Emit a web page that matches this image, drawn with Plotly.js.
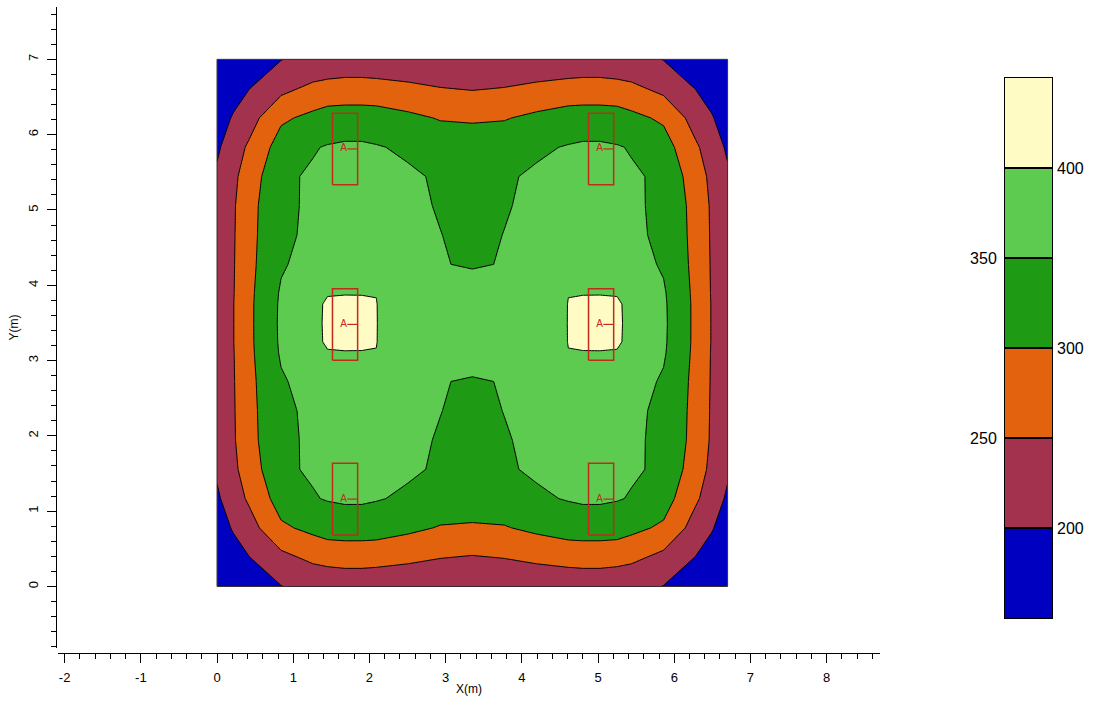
<!DOCTYPE html>
<html>
<head>
<meta charset="utf-8">
<script src="https://cdn.plot.ly/plotly-3.0.1.min.js"></script>
<style>html,body{margin:0;padding:0;background:#fff;} #chart{width:1099px;height:706px;}</style>
</head>
<body>
<div id="chart"></div>
<script>
// Calculation grid (m)
const gridX = [0, 0.21, 0.42, 0.84, 1.26, 1.45, 1.675, 1.9, 2.09, 2.51, 2.93, 3.35, 3.77, 4.19, 4.61, 4.8, 5.025, 5.25, 5.44, 5.86, 6.28, 6.49, 6.7];
const gridY = [0, 0.2, 0.389, 0.778, 1.167, 1.556, 1.944, 2.333, 2.722, 3.1, 3.25, 3.5, 3.75, 3.9, 4.278, 4.667, 5.056, 5.444, 5.833, 6.222, 6.611, 6.8, 7.0];
// Illuminance values (lx), one row per gridY value
const illuminance = [
  [152,163,176,199,214,219,222,222,220,215,209,207,209,215,220,222,222,219,214,199,176,163,152],
  [160,172,186,213,236,240,244,244,242,236,229,226,229,236,242,244,244,240,236,213,186,172,160],
  [170,185,199,237,262,270,272,272,270,262,252,247,252,262,270,272,272,270,262,237,199,185,170],
  [182,203,230,292,312,320,322,322,321,310,297,296,297,310,321,322,322,320,312,292,230,203,182],
  [192,228,257,322,347,353,357,357,353,343,328,318,328,343,353,357,357,353,347,322,257,228,192],
  [208,240,272,343,355,360,361,361,359,356,345,330,345,356,359,361,361,360,355,343,272,240,208],
  [212,244,283,342,356,362,364,364,361,356,348,337,348,356,361,364,364,362,356,342,283,244,212],
  [216,245,285,342,358,366,369,368,364,357,350.5,343,350.5,357,364,368,369,366,358,342,285,245,216],
  [219,246,287,345,368,376,378,377,374,363,351,348,351,363,374,377,378,376,368,345,287,246,219],
  [220,247,289,355,385,397,398,398,399.6,378,366,360,366,378,399.6,398,398,397,385,355,289,247,220],
  [221,248,290,357,388,406,408,407,400.5,382,369,364,369,382,400.5,407,408,406,388,357,290,248,221],
  [221,248,290,358,390,406,415,412,400.5,385,372,368,372,385,400.5,412,415,406,390,358,290,248,221],
  [221,248,290,357,388,406,408,407,400.5,382,369,364,369,382,400.5,407,408,406,388,357,290,248,221],
  [220,247,289,355,385,397,398,398,399.6,378,366,360,366,378,399.6,398,398,397,385,355,289,247,220],
  [219,246,287,345,368,376,378,377,374,363,351,348,351,363,374,377,378,376,368,345,287,246,219],
  [216,245,285,342,358,366,369,368,364,357,350.5,343,350.5,357,364,368,369,366,358,342,285,245,216],
  [212,244,283,342,356,362,364,364,361,356,348,337,348,356,361,364,364,362,356,342,283,244,212],
  [208,240,272,343,355,360,361,361,359,356,345,330,345,356,359,361,361,360,355,343,272,240,208],
  [192,228,257,322,347,353,357,357,353,343,328,318,328,343,353,357,357,353,347,322,257,228,192],
  [182,203,230,292,312,320,322,322,321,310,297,296,297,310,321,322,322,320,312,292,230,203,182],
  [170,185,199,237,262,270,272,272,270,262,252,247,252,262,270,272,272,270,262,237,199,185,170],
  [160,172,186,213,236,240,244,244,242,236,229,226,229,236,242,244,244,240,236,213,186,172,160],
  [152,163,176,199,214,219,222,222,220,215,209,207,209,215,220,222,222,219,214,199,176,163,152]
];
const levels = [200, 250, 300, 350, 400];
const bandColors = ['#0000C0', '#A3324F', '#E2620E', '#1E9A14', '#5CCB50', '#FFFBC4'];
const colorbarLeftLabels = [250, 350];
const colorbarRightLabels = [200, 300, 400];
const roomWidth = 6.7;
const roomLength = 7.0;
const lumX = [1.68, 5.04];
const lumY = [1.16, 3.48, 5.81];
const lumW = 0.33;
const lumL = 0.95;
const lumLabel = 'A';
const xTickLabels = [-2, -1, 0, 1, 2, 3, 4, 5, 6, 7, 8];
const yTickLabels = [0, 1, 2, 3, 4, 5, 6, 7];

const W = 1099, H = 706;
const FONT = 'Liberation Sans, Arial, sans-serif';
const lumColor = '#C22A1C';

const colorscale = bandColors.map((c, i) => [i / (bandColors.length - 1), c]);
const step = levels[1] - levels[0];

// luminaire geometry built from positions
const rx = [], ry = [], dx = [], dy = [], tx = [], ty = [], tt = [];
lumX.forEach(cx => lumY.forEach(cy => {
  const x0 = cx - lumW / 2, x1 = cx + lumW / 2, y0 = cy - lumL / 2, y1 = cy + lumL / 2;
  rx.push(x0, x1, x1, x0, x0, null); ry.push(y0, y0, y1, y1, y0, null);
  dx.push(cx + 0.03, x1, null); dy.push(cy, cy, null);
  tx.push(cx - 0.02); ty.push(cy); tt.push(lumLabel);
}));

// colorbar bands and boundaries
const cbCenters = bandColors.map((c, i) => levels[0] - step / 2 + i * step);
const cbZ = cbCenters.map(v => [v]);
const bx = [], by = [];
levels.forEach(l => { bx.push(0, 1, null); by.push(l, l, null); });

const traces = [
  {
    type: 'contour', x: gridX, y: gridY, z: illuminance,
    autocontour: false,
    contours: {start: levels[0], end: levels[levels.length - 1], size: step, coloring: 'fill', showlines: true},
    line: {color: '#000', width: 1, smoothing: 0},
    colorscale: colorscale, showscale: false, hoverinfo: 'skip'
  },
  {
    type: 'scatter', mode: 'lines',
    x: [0, roomWidth, roomWidth, 0, 0], y: [0, 0, roomLength, roomLength, 0],
    line: {color: '#3a2a2a', width: 1}, hoverinfo: 'skip', showlegend: false
  },
  {
    type: 'scatter', mode: 'lines', x: rx, y: ry,
    line: {color: lumColor, width: 1.5}, hoverinfo: 'skip', showlegend: false
  },
  {
    type: 'scatter', mode: 'lines', x: dx, y: dy,
    line: {color: lumColor, width: 1.2}, hoverinfo: 'skip', showlegend: false
  },
  {
    type: 'scatter', mode: 'text', x: tx, y: ty, text: tt,
    textposition: 'middle center',
    textfont: {family: FONT, size: 10, color: lumColor}, hoverinfo: 'skip', showlegend: false
  },
  {
    type: 'heatmap', x: [0.5], y: cbCenters, z: cbZ,
    zmin: cbCenters[0], zmax: cbCenters[cbCenters.length - 1],
    colorscale: colorscale, showscale: false, xaxis: 'x2', yaxis: 'y2', hoverinfo: 'skip'
  },
  {
    type: 'scatter', mode: 'lines', x: bx, y: by, xaxis: 'x2', yaxis: 'y3',
    line: {color: '#000', width: 2}, hoverinfo: 'skip', showlegend: false
  }
];

const px = v => v / W;           // horizontal pixel -> paper
const py = v => (H - v) / H;     // vertical pixel -> paper

const tickFont = {family: FONT, size: 13, color: '#000'};

const layout = {
  width: W, height: H,
  margin: {l: 0, r: 0, t: 0, b: 0},
  paper_bgcolor: '#fff', plot_bgcolor: 'rgba(0,0,0,0)',
  showlegend: false,
  xaxis: {
    domain: [px(58), px(880)], range: [-2.087, 8.70],
    anchor: 'free', position: py(653),
    tickmode: 'array', tickvals: xTickLabels, ticktext: xTickLabels.map(String),
    ticks: 'outside', ticklen: 9, tickcolor: '#000', tickwidth: 1,
    minor: {dtick: 0.2, tick0: 0, ticks: 'outside', ticklen: 5, tickcolor: '#000', tickwidth: 1, showgrid: false},
    showline: true, linecolor: '#000', linewidth: 1,
    showgrid: false, zeroline: false,
    tickfont: tickFont, ticklabelstandoff: 3,
    title: {text: 'X(m)', font: {family: FONT, size: 12, color: '#000'}, standoff: 1},
    fixedrange: true
  },
  yaxis: {
    domain: [py(648), py(7)], range: [-0.817, 7.695],
    anchor: 'free', position: px(56),
    tickmode: 'array', tickvals: yTickLabels, ticktext: yTickLabels.map(String),
    ticks: 'outside', ticklen: 9, tickcolor: '#000', tickwidth: 1,
    minor: {dtick: 0.2, tick0: 0, ticks: 'outside', ticklen: 5, tickcolor: '#000', tickwidth: 1, showgrid: false},
    showline: true, linecolor: '#000', linewidth: 1,
    showgrid: false, zeroline: false,
    tickfont: tickFont, tickangle: -90, ticklabelstandoff: 4,
    title: {text: 'Y(m)', font: {family: FONT, size: 12, color: '#000'}, standoff: 3},
    fixedrange: true
  },
  xaxis2: {
    domain: [px(1005), px(1052)], range: [0, 1], anchor: 'y2',
    showticklabels: false, ticks: '', showgrid: false, zeroline: false,
    showline: true, mirror: true, linecolor: '#000', linewidth: 1, fixedrange: true
  },
  yaxis2: {
    domain: [py(618), py(78)], range: [150, 450], anchor: 'x2', side: 'left',
    tickmode: 'array', tickvals: colorbarLeftLabels, ticktext: colorbarLeftLabels.map(String),
    ticks: '', showgrid: false, zeroline: false,
    showline: true, mirror: true, linecolor: '#000', linewidth: 1,
    tickfont: {family: FONT, size: 16, color: '#000'}, ticklabelstandoff: 4, fixedrange: true
  },
  yaxis3: {
    overlaying: 'y2', anchor: 'x2', side: 'right', range: [150, 450],
    tickmode: 'array', tickvals: colorbarRightLabels, ticktext: colorbarRightLabels.map(String),
    ticks: '', showgrid: false, zeroline: false, showline: false,
    tickfont: {family: FONT, size: 16, color: '#000'}, ticklabelstandoff: 4, fixedrange: true
  }
};

Plotly.newPlot('chart', traces, layout, {displayModeBar: false, staticPlot: true});
</script>
</body>
</html>
